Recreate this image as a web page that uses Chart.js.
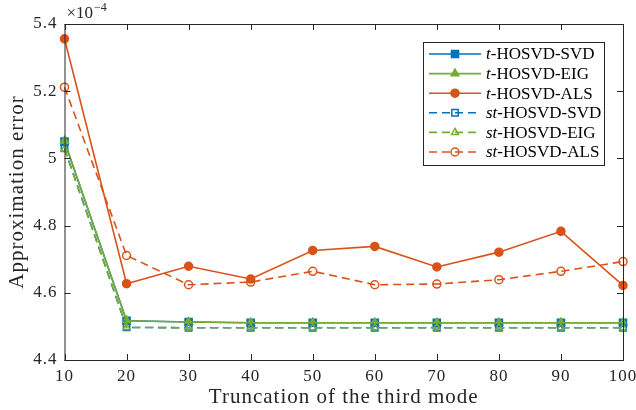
<!DOCTYPE html>
<html>
<head>
<meta charset="utf-8">
<script src="https://cdn.jsdelivr.net/npm/chart.js@4"></script>
<style>
  html, body { margin: 0; padding: 0; background: #fff; }
  #wrap { width: 636px; height: 410px; }
</style>
</head>
<body>
<div id="wrap"><canvas id="errChart"></canvas></div>
<script>
// truncation of the third mode
var ranks = [10, 20, 30, 40, 50, 60, 70, 80, 90, 100];
// approximation error, in units of 1e-4
var tSvd  = [5.050, 4.517, 4.513, 4.511, 4.511, 4.511, 4.511, 4.511, 4.511, 4.511];
var tEig  = [5.052, 4.517, 4.513, 4.511, 4.511, 4.511, 4.511, 4.511, 4.511, 4.511];
var tAls  = [5.356, 4.627, 4.679, 4.641, 4.726, 4.738, 4.677, 4.721, 4.783, 4.622];
var stSvd = [5.030, 4.497, 4.496, 4.496, 4.496, 4.496, 4.496, 4.496, 4.496, 4.496];
var stEig = [5.028, 4.497, 4.496, 4.496, 4.496, 4.496, 4.496, 4.496, 4.496, 4.496];
var stAls = [5.212, 4.711, 4.624, 4.632, 4.664, 4.624, 4.626, 4.639, 4.664, 4.693];
var yTicks = [4.4, 4.6, 4.8, 5.0, 5.2, 5.4];

var BLUE = '#0072BD', GREEN = '#77AC30', ORANGE = '#D95319';
var FONT = '"Liberation Serif", "DejaVu Serif", serif';

function pts(vals) {
    return vals.map(function(v, i){ return {x: ranks[i], y: v}; });
}

function series(label, vals, color, style, open, dashed, idx) {
    var r = style === 'rect' ? 5 : (style === 'triangle' ? 4.5 : 4);
    if (open) r = style === 'rect' ? 4.5 : 4;
    return {
        label: label,
        data: pts(vals),
        borderColor: color,
        backgroundColor: open ? 'rgba(255,255,255,0)' : color,
        pointBackgroundColor: open ? 'rgba(255,255,255,0)' : color,
        pointBorderColor: color,
        pointBorderWidth: 1.5,
        pointStyle: style,
        pointRadius: r,
        borderWidth: 1.6,
        borderDash: dashed ? [8, 5] : [],
        tension: 0,
        fill: false,
        clip: false,
        order: 6 - idx
    };
}

// axes box, inward ticks, exponent label and matlab-like legend
var matlabLook = {
    id: 'matlabLook',
    beforeDraw: function(chart) {
        // latex-ish text is wider than Times
        chart.ctx.letterSpacing = '1px';
    },
    afterDraw: function(chart) {
        var ctx = chart.ctx, a = chart.chartArea;
        var xs = chart.scales.x, ys = chart.scales.y;
        ctx.save();
        ctx.strokeStyle = '#262626';
        ctx.lineWidth = 1;
        ctx.setLineDash([]);
        ctx.strokeRect(a.left + 0.5, a.top + 0.5, a.right - a.left, a.bottom - a.top);
        ctx.beginPath();
        ranks.forEach(function(v){
            var px = Math.round(xs.getPixelForValue(v)) + 0.5;
            ctx.moveTo(px, a.bottom); ctx.lineTo(px, a.bottom - 6);
            ctx.moveTo(px, a.top); ctx.lineTo(px, a.top + 6);
        });
        yTicks.forEach(function(v){
            var py = Math.round(ys.getPixelForValue(v)) + 0.5;
            ctx.moveTo(a.left, py); ctx.lineTo(a.left + 6, py);
            ctx.moveTo(a.right, py); ctx.lineTo(a.right - 6, py);
        });
        ctx.stroke();

        // x10^-4
        ctx.letterSpacing = '0px';
        ctx.fillStyle = '#262626';
        ctx.textBaseline = 'alphabetic';
        ctx.textAlign = 'left';
        ctx.font = '17px ' + FONT;
        ctx.fillText('\u00d710', a.left + 2, a.top - 6);
        var w = ctx.measureText('\u00d710').width;
        ctx.font = '12px ' + FONT;
        ctx.fillText('\u22124', a.left + 2 + w + 1, a.top - 13);

        // legend
        var bx = 423.5, by = 42.5, bw = 181, bh = 123;
        ctx.fillStyle = '#fff';
        ctx.fillRect(bx, by, bw, bh);
        ctx.strokeStyle = '#262626';
        ctx.strokeRect(bx, by, bw, bh);
        chart.data.datasets.forEach(function(ds, i){
            var y = 54 + i * 19.6;
            ctx.save();
            ctx.strokeStyle = ds.borderColor;
            ctx.lineWidth = ds.borderWidth;
            ctx.setLineDash(ds.borderDash);
            ctx.beginPath();
            ctx.moveTo(429, y); ctx.lineTo(481, y);
            ctx.stroke();
            ctx.setLineDash([]);
            ctx.fillStyle = ds.pointBackgroundColor;
            ctx.lineWidth = ds.pointBorderWidth;
            Chart.helpers.drawPoint(ctx, {
                pointStyle: ds.pointStyle, radius: ds.pointRadius,
                borderWidth: ds.pointBorderWidth, rotation: 0
            }, 455, y);
            ctx.restore();
            var cut = ds.label.indexOf('-');
            var pre = ds.label.slice(0, cut), rest = ds.label.slice(cut);
            ctx.fillStyle = '#000';
            ctx.textBaseline = 'middle';
            ctx.font = 'italic 17px ' + FONT;
            ctx.fillText(pre, 486, y + 1);
            var pw = ctx.measureText(pre).width;
            ctx.font = '17px ' + FONT;
            ctx.fillText(rest, 486 + pw, y + 1);
        });
        ctx.restore();
    }
};

const errChart = new Chart(document.getElementById('errChart'), {
    type: 'line',
    data: {
        datasets: [
            series('t-HOSVD-SVD', tSvd, BLUE, 'rect', false, false, 0),
            series('t-HOSVD-EIG', tEig, GREEN, 'triangle', false, false, 1),
            series('t-HOSVD-ALS', tAls, ORANGE, 'circle', false, false, 2),
            series('st-HOSVD-SVD', stSvd, BLUE, 'rect', true, true, 3),
            series('st-HOSVD-EIG', stEig, GREEN, 'triangle', true, true, 4),
            series('st-HOSVD-ALS', stAls, ORANGE, 'circle', true, true, 5)
        ]
    },
    options: {
        responsive: true,
        maintainAspectRatio: false,
        animation: false,
        layout: { padding: { top: 24, right: 13, left: 0, bottom: 0 } },
        plugins: { legend: { display: false }, tooltip: { enabled: false } },
        scales: {
            x: {
                type: 'linear',
                min: 10, max: 100,
                grid: { display: false, drawTicks: false },
                border: { display: false },
                ticks: { stepSize: 10, padding: 6, color: '#262626', font: { family: FONT, size: 17 } },
                title: { display: true, text: 'Truncation of the third mode', color: '#262626',
                         padding: { top: 0, bottom: 0 }, font: { family: FONT, size: 21 } },
                afterFit: function(s){ s.height = 50; s.paddingLeft = 0; s.paddingRight = 0; }
            },
            y: {
                min: 4.4, max: 5.4,
                grid: { display: false, drawTicks: false },
                border: { display: false },
                ticks: {
                    stepSize: 0.2, padding: 7, color: '#262626',
                    font: { family: FONT, size: 17 },
                    callback: function(v){ return String(+v.toFixed(1)); }
                },
                title: { display: true, text: 'Approximation error', color: '#262626',
                         padding: { top: 5, bottom: 0 }, font: { family: FONT, size: 21 } },
                afterFit: function(s){ s.width = 64.5; s.paddingTop = 0; s.paddingBottom = 0; }
            }
        }
    },
    plugins: [matlabLook]
});
</script>
</body>
</html>
